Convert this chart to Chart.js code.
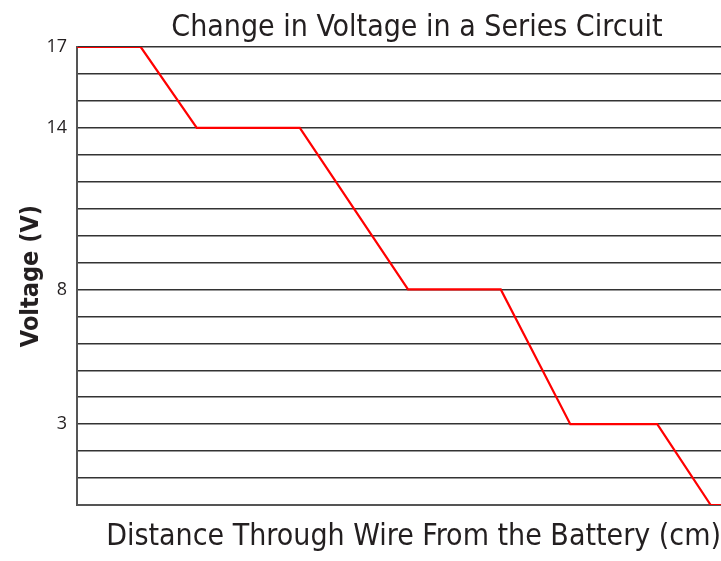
<!DOCTYPE html>
<html>
<head>
<meta charset="utf-8">
<script src="https://cdn.jsdelivr.net/npm/chart.js@4.4.1/dist/chart.umd.min.js"></script>
<style>
  html, body { margin: 0; padding: 0; background: #fff; }
  #wrap { width: 721px; height: 561px; }
</style>
</head>
<body>
<div id="wrap"><canvas id="graficoVoltaje" width="721" height="561"></canvas></div>
<script>
// Datos
const distancia = [0, 9.9, 18.6, 34.6, 51.4, 65.8, 76.6, 90.1, 98.4, 100];
const voltaje   = [17, 17, 14, 14, 8, 8, 3, 3, 0, 0];
const etiquetasY = [17, 14, 8, 3];
const titulo = 'Change in Voltage in a Series Circuit';

const fuente = '"Liberation Sans Narrow", "DejaVu Sans Condensed", "Roboto", sans-serif';

// Título centrado un poco a la derecha, como en el original
const tituloPlugin = {
  id: 'tituloCentrado',
  afterDraw(chart) {
    const c = chart.ctx;
    c.save();
    c.fillStyle = '#231f20';
    c.font = '30px ' + fuente;
    c.textAlign = 'center';
    c.textBaseline = 'middle';
    c.fillText(titulo, 417, 28);
    c.restore();
  }
};

const ctx = document.getElementById('graficoVoltaje').getContext('2d');
new Chart(ctx, {
  type: 'line',
  data: {
    datasets: [{
      data: distancia.map((d, i) => ({ x: d, y: voltaje[i] })),
      borderColor: '#ff0000',
      borderWidth: 2.2,
      pointRadius: 0,
      tension: 0
    }]
  },
  options: {
    responsive: false,
    animation: false,
    layout: { padding: { top: 47 } },
    plugins: {
      legend: { display: false },
      tooltip: { enabled: false },
      title: { display: false }
    },
    scales: {
      x: {
        type: 'linear',
        min: 0,
        max: 100,
        ticks: { display: false },
        grid: { display: false },
        border: { display: true, color: '#555', width: 2 },
        title: {
          display: true,
          align: 'end',
          text: 'Distance Through Wire From the Battery (cm)',
          color: '#231f20',
          font: { family: fuente, size: 30 },
          padding: { top: 0, bottom: 6 }
        },
        afterFit: (scale) => { scale.height = 56; }
      },
      y: {
        min: 0,
        max: 17,
        ticks: {
          stepSize: 1,
          autoSkip: false,
          padding: 10,
          color: '#231f20',
          font: { family: '"Open Sans", sans-serif', size: 18 },
          callback: (v) => etiquetasY.includes(v) ? String(v) : ''
        },
        grid: { color: '#333', lineWidth: 1.5, drawTicks: false },
        border: { display: true, color: '#555', width: 2 },
        title: {
          display: true,
          text: 'Voltage (V)',
          color: '#231f20',
          font: { family: fuente, size: 25, weight: 'bold' },
          padding: { top: 16, bottom: 0 }
        },
        afterFit: (scale) => { scale.width = 77; }
      }
    }
  },
  plugins: [tituloPlugin]
});
</script>
</body>
</html>
